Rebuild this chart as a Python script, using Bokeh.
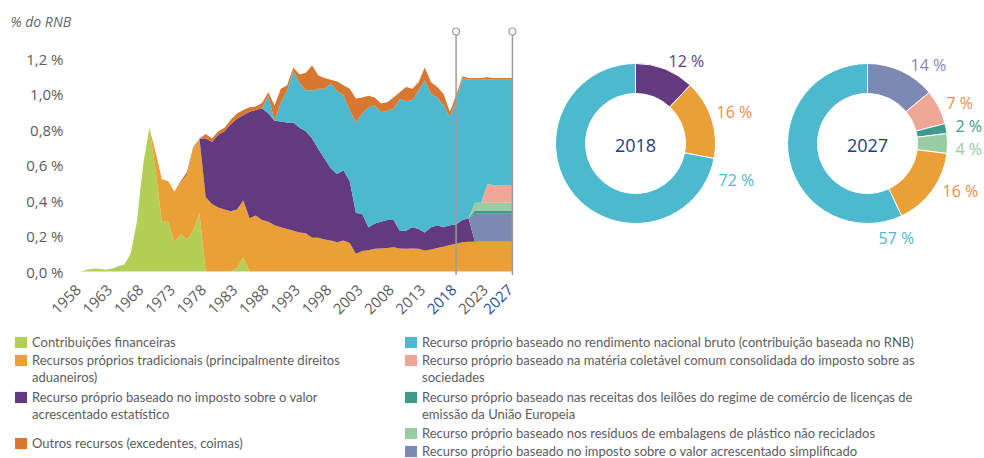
import math
from bokeh.plotting import figure
from bokeh.models import ColumnDataSource, Legend, LegendItem, Range1d
from bokeh.layouts import column, row
from bokeh.embed import file_html
from bokeh.resources import INLINE
from bokeh.core.properties import value

# ---------------- data ----------------
years = list(range(1958, 2028))

financial = ([0.0, 0.01, 0.015, 0.015, 0.01, 0.015, 0.03, 0.04, 0.10, 0.28,
              0.60, 0.81, 0.57, 0.28, 0.28, 0.165, 0.21, 0.18, 0.23, 0.33,
              0.0, 0.0, 0.0, 0.0, 0.0, 0.02, 0.08, 0.0, 0.0, 0.0] + [0.0] * 40)

traditional = ([0.0] * 10 +
               [0.0, 0.0, 0.10, 0.24, 0.23, 0.285, 0.29, 0.36, 0.46, 0.42,
                0.42, 0.38, 0.36, 0.35, 0.34, 0.33, 0.32, 0.30, 0.315, 0.29,
                0.28, 0.26, 0.25, 0.24, 0.23, 0.22, 0.215, 0.19, 0.19, 0.18,
                0.175, 0.165, 0.175, 0.16, 0.10, 0.115, 0.12, 0.128, 0.13, 0.133,
                0.137, 0.13, 0.128, 0.13, 0.128, 0.118, 0.124, 0.133, 0.14, 0.15,
                0.156, 0.165, 0.168, 0.168, 0.168, 0.168, 0.168, 0.168, 0.168, 0.168])

vat = ([0.0] * 20 +
       [0.33, 0.35, 0.41, 0.44, 0.49, 0.51, 0.48, 0.60, 0.595, 0.63,
        0.61, 0.59, 0.595, 0.60, 0.61, 0.59, 0.575, 0.56, 0.50, 0.455,
        0.405, 0.385, 0.395, 0.35, 0.23, 0.21, 0.13, 0.142, 0.15, 0.157,
        0.153, 0.10, 0.102, 0.12, 0.112, 0.102, 0.126, 0.127, 0.11, 0.11,
        0.109, 0.125, 0.132, 0.0, 0.0, 0.0, 0.0, 0.0, 0.0, 0.0])

simplified_vat = [0.0] * 63 + [0.157] * 7
ets = [0.0] * 63 + [0.018] * 7
plastic = [0.0] * 63 + [0.045] * 7
ccctb = [0.0] * 65 + [0.105, 0.10, 0.10, 0.10, 0.10]

gni = ([0.0] * 30 +
       [0.10, 0.0, 0.105, 0.18, 0.29, 0.25, 0.23, 0.27, 0.34, 0.395,
        0.48, 0.465, 0.425, 0.40, 0.51, 0.565, 0.675, 0.665, 0.617, 0.616,
        0.625, 0.74, 0.73, 0.713, 0.78, 0.856, 0.75, 0.72, 0.686, 0.61,
        0.695, 0.80, 0.78, 0.692, 0.692, 0.592, 0.592, 0.592, 0.592, 0.592])

other = ([0.0] * 10 +
         [0.0, 0.0, 0.0, 0.0, 0.0, 0.0, 0.01, 0.02, 0.01, 0.0,
          0.025, 0.02, 0.02, 0.02, 0.025, 0.03, 0.03, 0.025, 0.02, 0.03,
          0.02, 0.085, 0.08, 0.03, 0.02, 0.05, 0.10, 0.14, 0.074, 0.06,
          0.02, 0.055, 0.055, 0.12, 0.135, 0.09, 0.065, 0.045, 0.05, 0.048,
          0.065, 0.04, 0.08, 0.067, 0.046, 0.074, 0.066, 0.06, 0.064, 0.03,
          0.03, 0.01, 0.01, 0.01, 0.01, 0.01, 0.01, 0.01, 0.01, 0.01])

ytick_values = [0, 0.2, 0.4, 0.6, 0.8, 1.0, 1.2]
ytick_labels = ["0,0 %", "0,2 %", "0,4 %", "0,6 %", "0,8%", "1,0%", "1,2 %"]
xtick_values = [1958, 1963, 1968, 1973, 1978, 1983, 1988, 1993, 1998, 2003,
                2008, 2013, 2018, 2023, 2027]
highlight_years = [2018, 2027]
y_title = "% do RNB"

donut_2018_values = [12, 16, 72]
donut_2018_labels = ["12 %", "16 %", "72 %"]
donut_2027_values = [14, 7, 2, 4, 16, 57]
donut_2027_labels = ["14 %", "7 %", "2 %", "4 %", "16 %", "57 %"]

legend_left = [
    "Contribuições financeiras",
    "Recursos próprios tradicionais (principalmente direitos\naduaneiros)",
    "Recurso próprio baseado no imposto sobre o valor\nacrescentado estatístico",
    "Outros recursos (excedentes, coimas)",
]
legend_right = [
    "Recurso próprio baseado no rendimento nacional bruto (contribuição baseada no RNB)",
    "Recurso próprio baseado na matéria coletável comum consolidada do imposto sobre as\nsociedades",
    "Recurso próprio baseado nas receitas dos leilões do regime de comércio de licenças de\nemissão da União Europeia",
    "Recurso próprio baseado nos resíduos de embalagens de plástico não reciclados",
    "Recurso próprio baseado no imposto sobre o valor acrescentado simplificado",
]

# ---------------- styles / layout ----------------
C_FIN = "#b3cf56"
C_TOR = "#eb9f37"
C_VAT = "#633a7e"
C_GNI = "#4cb9ce"
C_OTH = "#d8772f"
C_CCCTB = "#eea697"
C_ETS = "#3e9b8c"
C_PLA = "#99cca3"
C_SVAT = "#7d89b3"
GRAY_TXT = "#5c5c5c"
BLUE_TXT = "#2a4c9a"
NAVY = "#1f3f7c"
FONT = "Open Sans"
LEG_FONT = "Lato"
LEG_SIZE = 13
TOP_H = 325
AREA_W = 540
X0_PX = 80          # pixel of 1958
PX_PER_YEAR = 6.26
Y0_PX = 271         # pixel of 0 %
PX_PER_UNIT = 177.5

# ---------------- area chart ----------------
src = ColumnDataSource(dict(year=years, financial=financial, traditional=traditional,
                            vat=vat, simplified_vat=simplified_vat, ets=ets,
                            plastic=plastic, ccctb=ccctb, gni=gni, other=other))
stackers = ["financial", "traditional", "vat", "simplified_vat", "ets", "plastic",
            "ccctb", "gni", "other"]
colors = [C_FIN, C_TOR, C_VAT, C_SVAT, C_ETS, C_PLA, C_CCCTB, C_GNI, C_OTH]

x_range = Range1d(1958 - X0_PX / PX_PER_YEAR, 1958 + (AREA_W - X0_PX) / PX_PER_YEAR)
y_range = Range1d(-(TOP_H - Y0_PX) / PX_PER_UNIT, Y0_PX / PX_PER_UNIT)
p = figure(width=AREA_W, height=TOP_H, x_range=x_range, y_range=y_range,
           output_backend="svg", toolbar_location=None, min_border=0,
           x_axis_location=None, y_axis_location=None)
p.outline_line_color = None
p.xgrid.visible = False
p.ygrid.visible = False
p.varea_stack(stackers=stackers, x="year", color=colors, source=src)

# y tick labels
p.text(x=[years[0]] * len(ytick_values), y=ytick_values, text=ytick_labels,
       x_offset=-17, text_align="right", text_baseline="middle",
       text_font=value(FONT), text_font_size="15px", text_color=GRAY_TXT)
# y title
p.text(x=[years[0]], y=[(Y0_PX - 21) / PX_PER_UNIT], text=[y_title], x_offset=-70,
       text_align="left", text_baseline="middle", text_font=value(FONT),
       text_font_size="14px", text_font_style="italic", text_color="#666666")

# x tick labels (rotated), grey except the highlighted years
xt = ColumnDataSource(dict(x=xtick_values, y=[0] * len(xtick_values),
                           t=[str(v) for v in xtick_values],
                           c=[BLUE_TXT if v in highlight_years else GRAY_TXT
                              for v in xtick_values]))
p.text(x="x", y="y", text="t", text_color="c", source=xt, angle=math.pi / 4,
       text_align="right", text_baseline="middle", x_offset=-2, y_offset=16,
       text_font=value(FONT), text_font_size="15px")

hl = ColumnDataSource(dict(x=highlight_years,
                           top=[1.352] * len(highlight_years),
                           bottom=[-0.02] * len(highlight_years)))
p.segment(x0="x", x1="x", y0="bottom", y1="top", source=hl, line_color="#9c9c9c",
          line_width=1.5)
p.scatter(x="x", y="top", source=hl, marker="circle", size=7, fill_color="white",
          line_color="#9c9c9c", line_width=1.2)

# ---------------- donuts ----------------
q = figure(width=984 - AREA_W, height=TOP_H, x_range=Range1d(AREA_W, 984),
           y_range=Range1d(0, TOP_H), output_backend="svg", toolbar_location=None,
           min_border=0, x_axis_location=None, y_axis_location=None)
q.outline_line_color = None
q.xgrid.visible = False
q.ygrid.visible = False


def wedge_angles(vals):
    tot = float(sum(vals))
    starts, ends, c = [], [], 0.0
    for v in vals:
        starts.append(math.pi / 2 - 2 * math.pi * c / tot)
        c += v
        ends.append(math.pi / 2 - 2 * math.pi * c / tot)
    return starts, ends


for cx, vals, cols, year_txt in [
        (635, donut_2018_values, [C_VAT, C_TOR, C_GNI], "2018"),
        (867, donut_2027_values, [C_SVAT, C_CCCTB, C_ETS, C_PLA, C_TOR, C_GNI], "2027")]:
    s, e = wedge_angles(vals)
    q.annular_wedge(x=cx, y=TOP_H - 143, inner_radius=50, outer_radius=80, start_angle=s,
                    end_angle=e, direction="clock", fill_color=cols, line_color="white",
                    line_width=1)
    q.text(x=[cx], y=[TOP_H - 145], text=[year_txt], text_align="center",
           text_baseline="middle", text_font=value(FONT), text_font_size="18px",
           text_color=NAVY)

lab_x_2018 = [668, 716, 718]
lab_Y_2018 = [60, 111, 179]
lab_c_2018 = [C_VAT, "#ee8c44", C_GNI]
lab_x_2027 = [910, 946, 955, 955, 942, 878]
lab_Y_2027 = [64, 102, 125, 148, 190, 237]
lab_c_2027 = [C_SVAT, "#ee8c4e", C_ETS, C_PLA, "#ee8c44", C_GNI]
q.text(x=lab_x_2018, y=[TOP_H - v for v in lab_Y_2018], text=donut_2018_labels,
       text_color=lab_c_2018, text_align="left", text_baseline="middle",
       text_font=value(FONT), text_font_size="16px")
q.text(x=lab_x_2027, y=[TOP_H - v for v in lab_Y_2027], text=donut_2027_labels,
       text_color=lab_c_2027, text_align="left", text_baseline="middle",
       text_font=value(FONT), text_font_size="16px")

# ---------------- legend ----------------
LH = 458 - TOP_H
lg = figure(width=984, height=LH, x_range=Range1d(0, 1), y_range=Range1d(0, 1),
            output_backend="svg", toolbar_location=None, min_border=0,
            x_axis_location=None, y_axis_location=None)
lg.outline_line_color = None
lg.xgrid.visible = False
lg.ygrid.visible = False

left_cols = [C_FIN, C_TOR, C_VAT, C_OTH]
right_cols = [C_GNI, C_CCCTB, C_ETS, C_PLA, C_SVAT]
left_y = [342, 360, 397, 443]
right_y = [342, 360, 397, 433, 451]
LINE_PITCH = 17.5
half = 0.6 * LEG_SIZE
nan = float("nan")
blank = lg.varea(x=[nan], y1=[nan], y2=[nan], fill_alpha=0, fill_color="white")


def add_legend_line(text, renderer, x0, yc):
    leg = Legend(items=[LegendItem(label=text, renderers=[renderer])],
                 location=(x0, LH - (yc - TOP_H) - half),
                 padding=0, margin=0, spacing=0, border_line_color=None,
                 background_fill_alpha=0, glyph_width=15, glyph_height=14,
                 label_standoff=4, label_height=14,
                 label_text_font=LEG_FONT, label_text_font_size=f"{LEG_SIZE}px",
                 label_text_color=GRAY_TXT)
    lg.add_layout(leg)


for labels, cols, ys, x0 in [(legend_left, left_cols, left_y, 13),
                             (legend_right, right_cols, right_y, 403)]:
    for lab, col, yc in zip(labels, cols, ys):
        r = lg.varea(x=[nan], y1=[nan], y2=[nan], fill_color=col)
        for k, line in enumerate(lab.split("\n")):
            add_legend_line(line, r if k == 0 else blank, x0, yc + k * LINE_PITCH)

layout = column(row(p, q), lg)
open("out.html", "w").write(file_html(layout, INLINE))
